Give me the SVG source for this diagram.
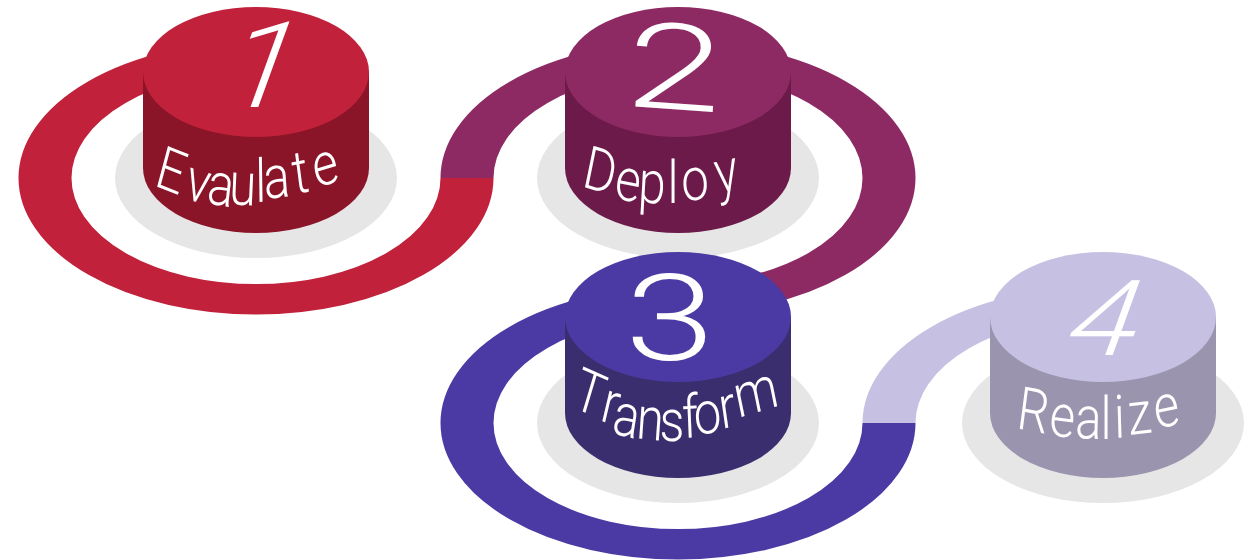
<svg xmlns="http://www.w3.org/2000/svg" width="1245" height="560" viewBox="0 0 1245 560">
  <style>
    .shadow { fill: #e6e6e6; }
    .ring { fill: none; stroke-width: 53; }
    .lbl { font-family: Roboto, "Liberation Sans", sans-serif; font-weight: 300; font-size: 60px; fill: #ffffff; text-anchor: middle; }
    .num { font-family: Roboto, "Liberation Sans", sans-serif; font-weight: 300; font-size: 120px; fill: #ffffff; text-anchor: middle; }
  </style>
  <rect width="1245" height="560" fill="#ffffff"/>
  <g id="shadows">
    <ellipse class="shadow" cx="256" cy="178" rx="141" ry="80"/>
    <ellipse class="shadow" cx="678" cy="178" rx="141" ry="80"/>
    <ellipse class="shadow" cx="678" cy="423" rx="141" ry="80"/>
    <ellipse class="shadow" cx="1103" cy="423" rx="141" ry="80"/>
  </g>
  <g id="connectors">
    <path class="ring" stroke="#c1213a" transform="translate(256,178) scale(1,0.575)" d="M 0,-211 A 211,211 0 1 0 211,0"/>
    <path class="ring" stroke="#8d2a63" transform="translate(678,178) scale(1,0.575)" d="M -211,0 A 211,211 0 1 1 0,211"/>
    <path class="ring" stroke="#4b3aa4" transform="translate(678,423) scale(1,0.575)" d="M 0,-211 A 211,211 0 1 0 211,0"/>
    <path class="ring" stroke="#c6c1e2" transform="translate(1100,423) scale(1,0.575)" d="M -211,0 A 211,211 0 0 1 0,-211"/>
  </g>
  <g id="node-1">
    <path fill="#8a1428" d="M 143,72 L 143,168 A 113,65 0 0 0 369,168 L 369,72 Z"/>
    <ellipse fill="#c1213a" cx="256" cy="72" rx="113" ry="65"/>
    <text class="num" transform="translate(250,107) skewX(-20) scale(1.1,1)">1</text>
    <text class="lbl" transform="translate(256,0) scale(0.82,1)" x="-108.5 -74.4 -45.1 -17.1 6.1 26.8 57.3 89" y="185 198 203 204 202 199 194 188" rotate="18 14 8 3 -1 -5 -9 -14">Evaulate</text>
  </g>
  <g id="node-2">
    <path fill="#6c1a4a" d="M 565,72 L 565,168 A 113,65 0 0 0 791,168 L 791,72 Z"/>
    <ellipse fill="#8d2a63" cx="678" cy="72" rx="113" ry="65"/>
    <text class="num" transform="translate(672,109) rotate(4) scale(1.45,1)">2</text>
    <text class="lbl" transform="translate(678,0) scale(0.82,1)" x="-98.8 -63.4 -32.9 -6.1 22 62" y="186 198 202 203 201 194" rotate="14 9 4 0 -4 -10">Deploy</text>
  </g>
  <g id="node-3">
    <path fill="#3b2e6e" d="M 565,317 L 565,413 A 113,65 0 0 0 791,413 L 791,317 Z"/>
    <ellipse fill="#4b3aa4" cx="678" cy="317" rx="113" ry="65"/>
    <text class="num" transform="translate(670,360) scale(1.35,1)">3</text>
    <text class="lbl" transform="translate(678,0) scale(0.82,1)" x="-113.4 -86.6 -65.9 -35.4 -7.3 15.9 37.8 63.4 100" y="406 420 433 438 441 438 435 429 418" rotate="20 16 11 5 0 -3 -6 -10 -14">Transform</text>
  </g>
  <g id="node-4">
    <path fill="#9a94ae" d="M 990,317 L 990,413 A 113,65 0 0 0 1216,413 L 1216,317 Z"/>
    <ellipse fill="#c6c1e2" cx="1103" cy="317" rx="113" ry="65"/>
    <text class="num" style="font-size:105px" transform="translate(1094,355) skewX(-20) scale(1.2,1)">4</text>
    <text class="lbl" transform="translate(1103,0) scale(0.82,1)" x="-87.8 -51.2 -18.3 3.7 20.7 46.3 80.5" y="428 435 438 439 438 435 429" rotate="9 6 2 0 -2 -5 -10">Realize</text>
  </g>
</svg>
